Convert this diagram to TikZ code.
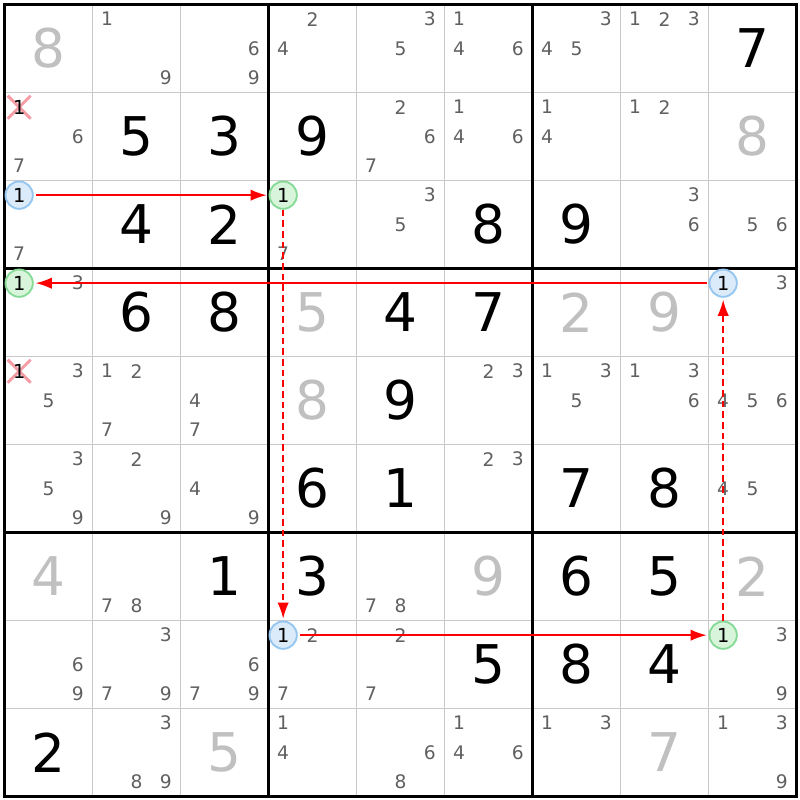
\documentclass[tikz,border=0pt]{standalone}
\usepackage{fontspec}
\setmainfont{DejaVu Sans}
\usetikzlibrary{arrows.meta}
\definecolor{cand}{HTML}{606060}
\definecolor{givgrey}{HTML}{C0C0C0}
\definecolor{thingrid}{HTML}{C8C8C8}
\definecolor{bfill}{HTML}{DCEBFA}
\definecolor{bline}{HTML}{94C6F0}
\definecolor{gfill}{HTML}{D8F5DC}
\definecolor{gline}{HTML}{86DA96}
\definecolor{xcol}{HTML}{F59CA4}
\definecolor{linkred}{HTML}{FF0000}
\tikzset{
  bigd/.style={inner sep=0pt, font=\fontsize{40}{40}\selectfont},
  bigk/.style={bigd, text=black},
  bigg/.style={bigd, text=givgrey},
  cnd/.style={inner sep=0pt, font=\fontsize{14}{14}\selectfont, text=cand},
  hl/.style={circle, inner sep=0pt, minimum size=20.5pt, line width=1.4pt, font=\fontsize{14.5}{14.5}\selectfont, text=black},
  hlb/.style={hl, draw=bline, fill=bfill},
  hlg/.style={hl, draw=gline, fill=gfill},
  xone/.style={inner sep=0pt, font=\fontsize{14.5}{14.5}\selectfont, text=black},
  xmark/.style={draw=xcol, line width=2.2pt},
  thinline/.style={draw=thingrid, line width=1.2pt},
  thickline/.style={draw=black, line width=2.8pt},
  strong/.style={draw=linkred, line width=1.1pt, -{Latex[length=12pt,width=8.5pt]}, shorten >=1.5pt, shorten <=1.5pt},
  weak/.style={draw=linkred, line width=1.1pt, -{Latex[length=12pt,width=8.5pt]}, shorten >=1.5pt, dash pattern=on 5pt off 3pt}
}
\begin{document}
\begin{tikzpicture}[x=0.75pt,y=-0.75pt]
\useasboundingbox (0,0) rectangle (800,800);
\fill[white] (0,0) rectangle (800,800);
% thin grid
\foreach \i in {1,2,4,5,7,8}{
  \draw[thinline] ({4.5+88*\i},4.5) -- ({4.5+88*\i},796.5);
  \draw[thinline] (4.5,{4.5+88*\i}) -- (796.5,{4.5+88*\i});
}
% thick grid
\foreach \i in {3,6}{
  \draw[thickline] ({4.5+88*\i},4.5) -- ({4.5+88*\i},796.5);
  \draw[thickline] (4.5,{4.5+88*\i}) -- (796.5,{4.5+88*\i});
}
\draw[thickline] (4.5,4.5) rectangle (796.5,796.5);
% big digits (black)
\foreach \r/\c/\d in {0/8/7,1/1/5,1/2/3,1/3/9,2/1/4,2/2/2,2/5/8,2/6/9,3/1/6,3/2/8,3/4/4,3/5/7,4/4/9,5/3/6,5/4/1,5/6/7,5/7/8,6/2/1,6/3/3,6/6/6,6/7/5,7/5/5,7/6/8,7/7/4,8/0/2}{
  \node[bigk] (v\r\c) at ({4.5+88*\c+44},{4.5+88*\r+44}) {\d};
}
% big digits (grey)
\foreach \r/\c/\d in {0/0/8,1/8/8,3/3/5,3/6/2,3/7/9,4/3/8,6/0/4,6/5/9,6/8/2,8/2/5,8/7/7}{
  \node[bigg] (v\r\c) at ({4.5+88*\c+44},{4.5+88*\r+44}) {\d};
}
% candidates
\foreach \r/\c/\L in {0/1/{1,9},0/2/{6,9},0/3/{2,4},0/4/{3,5},0/5/{1,4,6},0/6/{3,4,5},0/7/{1,2,3},
  1/0/{6,7},1/4/{2,6,7},1/5/{1,4,6},1/6/{1,4},1/7/{1,2},
  2/0/{7},2/3/{7},2/4/{3,5},2/7/{3,6},2/8/{5,6},
  3/0/{3},3/8/{3},
  4/0/{3,5},4/1/{1,2,7},4/2/{4,7},4/5/{2,3},4/6/{1,3,5},4/7/{1,3,6},4/8/{4,5,6},
  5/0/{3,5,9},5/1/{2,9},5/2/{4,9},5/5/{2,3},5/8/{4,5},
  6/1/{7,8},6/4/{7,8},
  7/0/{6,9},7/1/{3,7,9},7/2/{6,7,9},7/3/{2,7},7/4/{2,7},7/8/{3,9},
  8/1/{3,8,9},8/3/{1,4},8/4/{6,8},8/5/{1,4,6},8/6/{1,3},8/8/{1,3,9}}{
  \foreach \d in \L {
    \pgfmathsetmacro{\px}{4.5+88*\c+14.667+29.333*mod(\d-1,3)}
    \pgfmathsetmacro{\py}{4.5+88*\r+14.667+29.333*floor((\d-1)/3)}
    \node[cnd] (k\r\c\d) at (\px,\py) {\d};
  }
}
% eliminated candidates
\foreach \r/\c in {1/0,4/0}{
  \pgfmathsetmacro{\px}{4.5+88*\c+14.667}
  \pgfmathsetmacro{\py}{4.5+88*\r+14.667}
  \draw[xmark] (\px-11.5,\py-11.5) -- (\px+11.5,\py+11.5);
  \draw[xmark] (\px-11.5,\py+11.5) -- (\px+11.5,\py-11.5);
  \node[xone] (x\r\c) at (\px,\py) {1};
}
% highlighted candidates
\node[hlb] (b20) at ({4.5+14.667},{4.5+88*2+14.667}) {1};
\node[hlg] (g23) at ({4.5+88*3+14.667},{4.5+88*2+14.667}) {1};
\node[hlb] (b73) at ({4.5+88*3+14.667},{4.5+88*7+14.667}) {1};
\node[hlg] (g78) at ({4.5+88*8+14.667},{4.5+88*7+14.667}) {1};
\node[hlb] (b38) at ({4.5+88*8+14.667},{4.5+88*3+14.667}) {1};
\node[hlg] (g30) at ({4.5+14.667},{4.5+88*3+14.667}) {1};
% links
\draw[strong] (b20) -- (g23);
\draw[weak] (g23) -- (b73);
\draw[strong] (b73) -- (g78);
\draw[weak] (g78) -- (b38);
\draw[strong] (b38) -- (g30);
\end{tikzpicture}
\end{document}
